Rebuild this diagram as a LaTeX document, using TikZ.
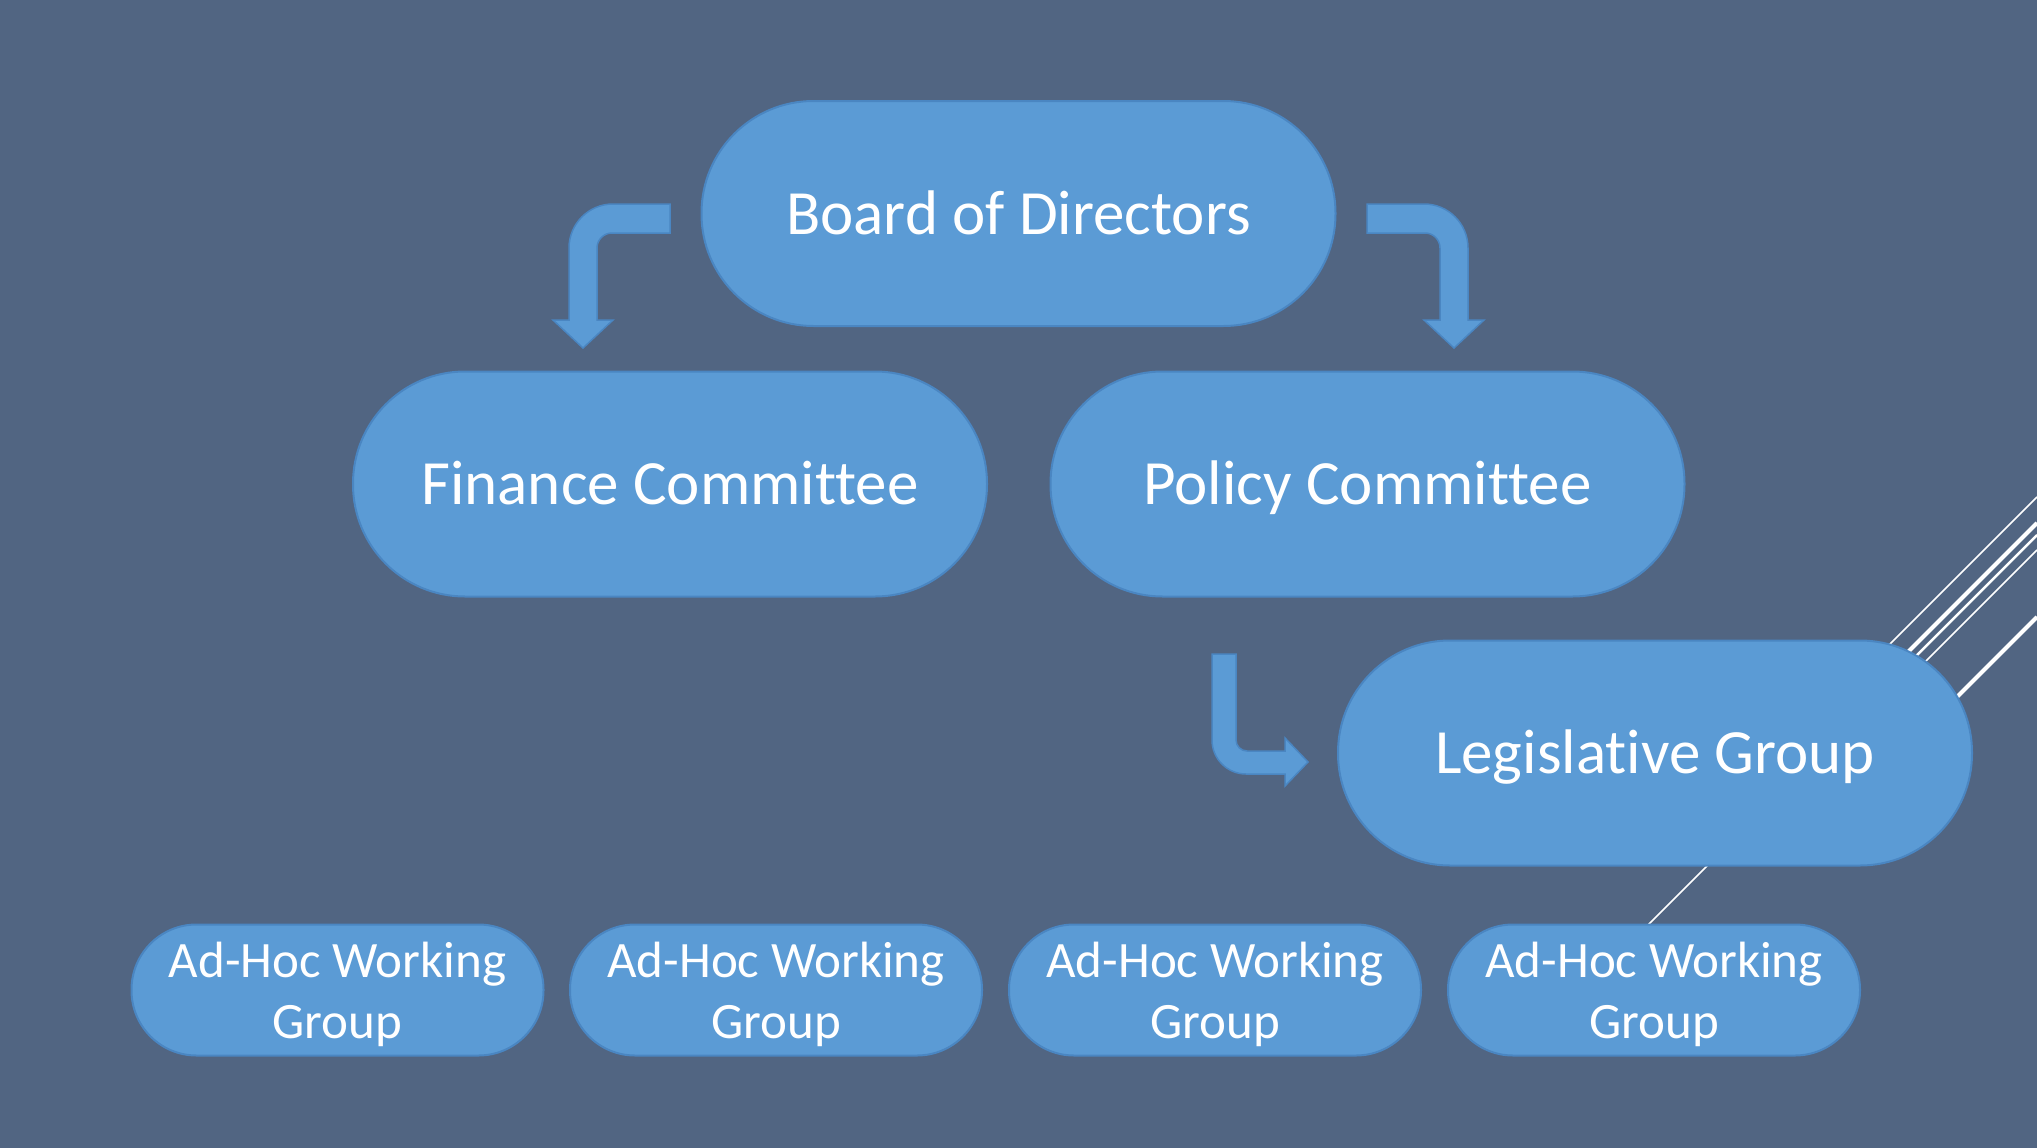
\documentclass[tikz,border=0pt]{standalone}
\usepackage{fontspec}
\setmainfont{Carlito}[Ligatures={NoCommon}]
\definecolor{bgc}{HTML}{516582}
\definecolor{nodefill}{HTML}{5B9BD5}
\definecolor{nodeline}{HTML}{4A86C2}
\newcommand{\adhoctext}{\fontsize{51}{61}\selectfont\raisebox{0pt}[48pt][74pt]{\begin{tabular}[t]{@{}c@{}}Ad-Hoc Working\\Group\end{tabular}}}
\tikzset{
  bignode/.style={rectangle, rounded corners=112pt, minimum width=634pt, minimum height=225pt,
    fill=nodefill, draw=nodeline, line width=2pt, text=white, inner sep=0pt,
    text height=50pt, text depth=9pt,
    font=\fontsize{63}{75}\selectfont},
  smallnode/.style={rectangle, rounded corners=65pt, minimum width=412pt, minimum height=131pt,
    fill=nodefill, draw=nodeline, line width=2pt, text=white, inner sep=0pt},
  bentarrow/.style={fill=nodefill, draw=nodeline, line width=1.5pt, line join=miter},
  deco/.style={draw=white, line cap=butt}
}
\begin{document}
\begin{tikzpicture}[x=1pt, y=-1pt]
\fill[bgc] (0,0) rectangle (2037,1148);
\useasboundingbox (0,0) rectangle (2037,1148);

% decorative diagonal lines (behind the nodes)
\draw[deco, line width=1.5pt] (2037,497) -- (1760,774);
\draw[deco, line width=4pt]   (2037,523) -- (1780,780);
\draw[deco, line width=2.5pt] (2037,535) -- (1790,782);
\draw[deco, line width=1.5pt] (2037,550) -- (1800,787);
\draw[deco, line width=4pt]   (2037,617) -- (1850,804);
\draw[deco, line width=1.5pt] (1760,813) -- (1620,953);

% nodes
\node[bignode] (board) at (1018.5,213.5) {Board of Directors};
\node[bignode] (fin) at (670,484) {Finance Committee};
\node[bignode] (pol) at (1367.5,484) {Policy Committee};
\node[bignode] (leg) at (1655,753) {Legislative Group};

\node[smallnode] (ah1) at (337.5,990) {\adhoctext};
\node[smallnode] (ah2) at (776,990) {\adhoctext};
\node[smallnode] (ah3) at (1215,990) {\adhoctext};
\node[smallnode] (ah4) at (1654,990) {\adhoctext};

% bent arrows
\path[bentarrow] (670,204) -- (613,204) arc[start angle=270, end angle=180, radius=44]
  -- (569,320) -- (553,320) -- (583,348) -- (613,320) -- (597,320)
  -- (597,248) arc[start angle=180, end angle=270, radius=15] -- (670,233) -- cycle;

\path[bentarrow] (1367,204) -- (1424,204) arc[start angle=270, end angle=360, radius=44]
  -- (1468,320) -- (1484,320) -- (1454,348) -- (1424,320) -- (1440,320)
  -- (1440,248) arc[start angle=0, end angle=-90, radius=15] -- (1367,233) -- cycle;

\path[bentarrow] (1212,654) -- (1212,740) arc[start angle=180, end angle=90, radius=34]
  -- (1285,774) -- (1285,786) -- (1308,762) -- (1285,738) -- (1285,751)
  -- (1247,751) arc[start angle=90, end angle=180, radius=11] -- (1236,654) -- cycle;
\end{tikzpicture}
\end{document}
